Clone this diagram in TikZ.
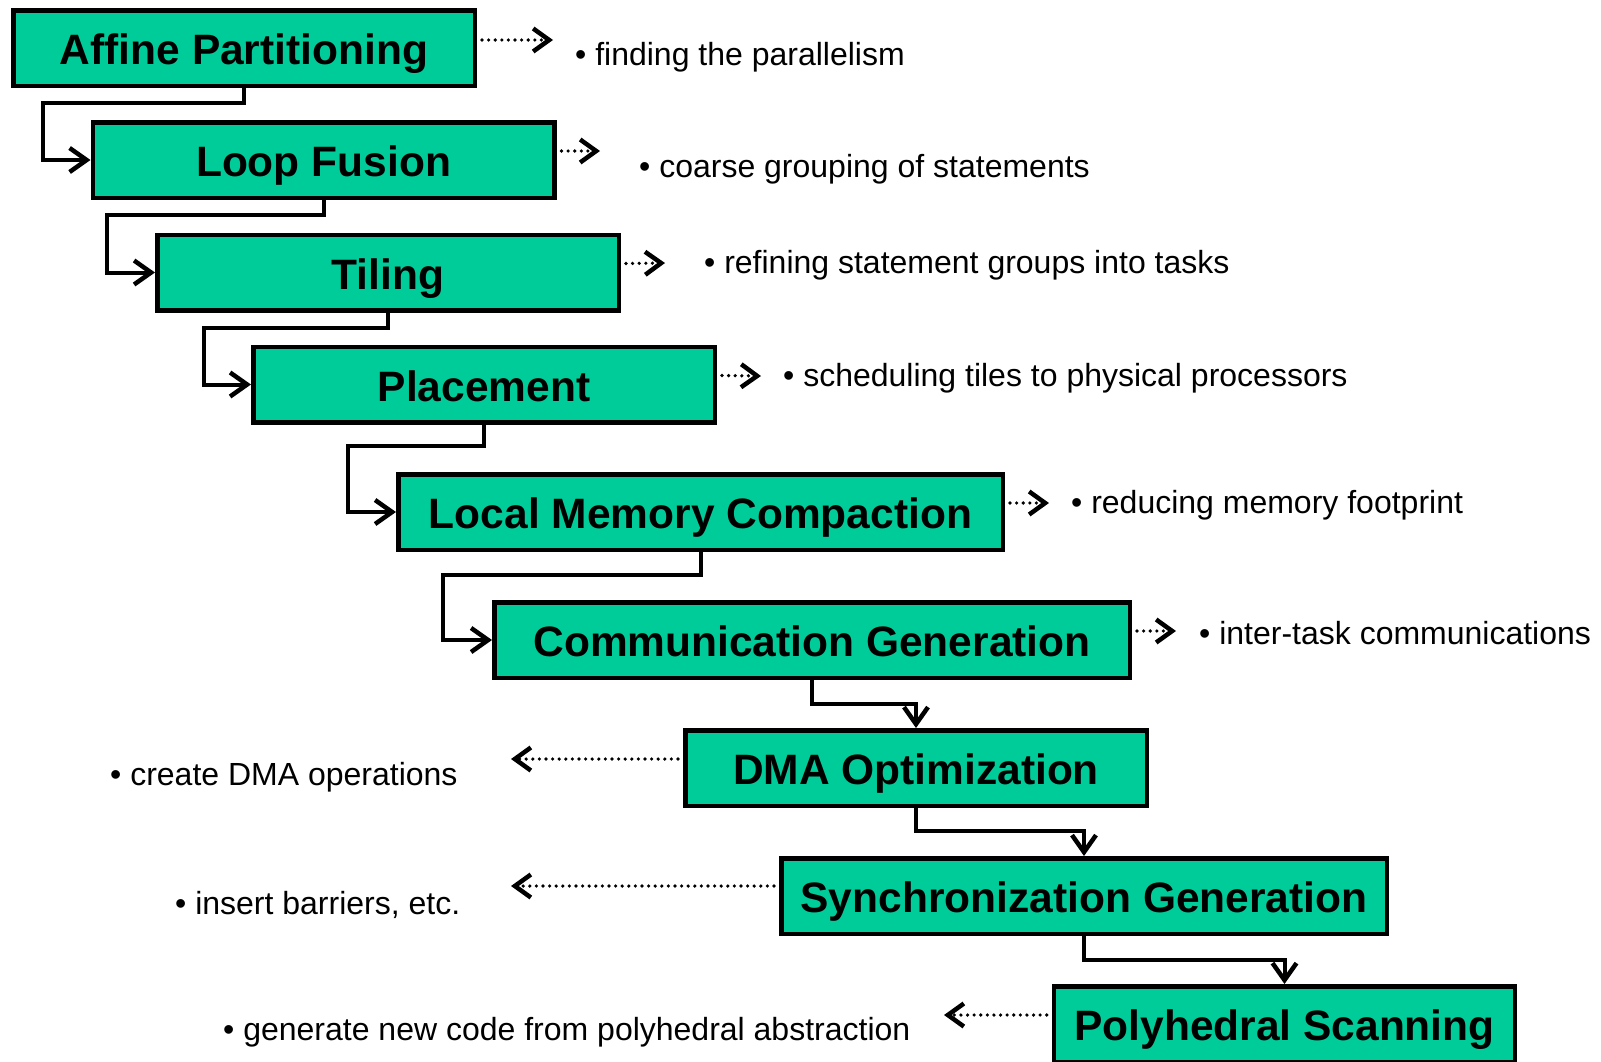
\documentclass[tikz,border=0pt]{standalone}
\usepackage{fontspec}
\setmainfont{Liberation Sans}[Ligatures=CommonOff]
\usetikzlibrary{arrows.meta}
\definecolor{boxgreen}{RGB}{0,204,153}
\begin{document}
\begin{tikzpicture}[x=1pt,y=-1pt,
  stage/.style={draw=black, line width=4.5pt, fill=boxgreen, minimum height=75.5pt,
    inner sep=0pt, text height=42.5pt, text depth=9.4pt,
    font=\fontsize{42.5}{50}\selectfont\bfseries},
  flow/.style={draw=black, line width=4pt,
    -{Straight Barb[length=17pt,width=24pt,line width=4.5pt]}},
  hint/.style={draw=black, line width=3.6pt, dash pattern=on 0pt off 6.6pt, line cap=round,
    -{Straight Barb[length=16pt,width=23pt,line width=4.5pt]}},
  note/.style={anchor=west, inner sep=0pt, font=\fontsize{32}{38}\selectfont}]
\useasboundingbox (0,0) rectangle (1601,1061);

% stages
\node[stage, minimum width=461.5pt] (s1) at (244,48) {Affine Partitioning};
\node[stage, minimum width=461.5pt] (s2) at (323.5,160) {Loop Fusion};
\node[stage, minimum width=461.5pt] (s3) at (388,272.5) {Tiling};
\node[stage, minimum width=461.5pt] (s4) at (484,384.5) {Placement};
\node[stage, minimum width=604.5pt] (s5) at (700.5,512) {Local Memory Compaction};
\node[stage, minimum width=635.5pt] (s6) at (812,640) {Communication Generation};
\node[stage, minimum width=461.5pt] (s7) at (916,768) {DMA Optimization};
\node[stage, minimum width=605.5pt] (s8) at (1084,896) {Synchronization Generation};
\node[stage, minimum width=461pt] (s9) at (1284.5,1024) {Polyhedral Scanning};

% elbow connectors
\coordinate (k1) at (43,103);
\coordinate (k2) at (107,215);
\coordinate (k3) at (204,328);
\coordinate (k4) at (348,446);
\coordinate (k5) at (443,575);
\coordinate (k6) at (812,704);
\coordinate (k7) at (916,831);
\coordinate (k8) at (1084,960);
\draw[flow] (s1.south) |- (k1) |- (s2.west);
\draw[flow] (s2.south) |- (k2) |- (s3.west);
\draw[flow] (s3.south) |- (k3) |- (s4.west);
\draw[flow] (s4.south) |- (k4) |- (s5.west);
\draw[flow] (s5.south) |- (k5) |- (s6.west);
\draw[flow] (s6.south) -- (k6) -| (s7.north);
\draw[flow] (s7.south) -- (k7) -| (s8.north);
\draw[flow] (s8.south) -- (k8) -| (s9.north);

% dotted hint arrows
\coordinate (h1) at (553,40);
\coordinate (h2) at (600,151);
\coordinate (h3) at (665,263);
\coordinate (h4) at (761,376);
\coordinate (h5) at (1049,503);
\coordinate (h6) at (1176,631);
\coordinate (h7) at (511,759);
\coordinate (h8) at (511,886);
\coordinate (h9) at (944,1015);
\draw[hint] ([shift={(5pt,8pt)}]s1.east) -- (h1);
\draw[hint] ([shift={(5pt,9pt)}]s2.east) -- (h2);
\draw[hint] ([shift={(5pt,9pt)}]s3.east) -- (h3);
\draw[hint] ([shift={(5pt,9pt)}]s4.east) -- (h4);
\draw[hint] ([shift={(5pt,9pt)}]s5.east) -- (h5);
\draw[hint] ([shift={(5pt,9pt)}]s6.east) -- (h6);
\draw[hint] ([shift={(-5pt,9pt)}]s7.west) -- (h7);
\draw[hint] ([shift={(-5pt,10pt)}]s8.west) -- (h8);
\draw[hint] ([shift={(-5pt,9pt)}]s9.west) -- (h9);

% notes
\node[note] (n1) at (575,57) {• finding the parallelism};
\node[note] (n2) at (639,169) {• coarse grouping of statements};
\node[note] (n3) at (704,265) {• refining statement groups into tasks};
\node[note] (n4) at (783,378) {• scheduling tiles to physical processors};
\node[note] (n5) at (1071,505) {• reducing memory footprint};
\node[note] (n6) at (1199,633) {• inter-task communications};
\node[note] (n7) at (110,777) {• create DMA operations};
\node[note] (n8) at (175,905) {• insert barriers, etc.};
\node[note] (n9) at (223,1032) {• generate new code from polyhedral abstraction};
\end{tikzpicture}
\end{document}
